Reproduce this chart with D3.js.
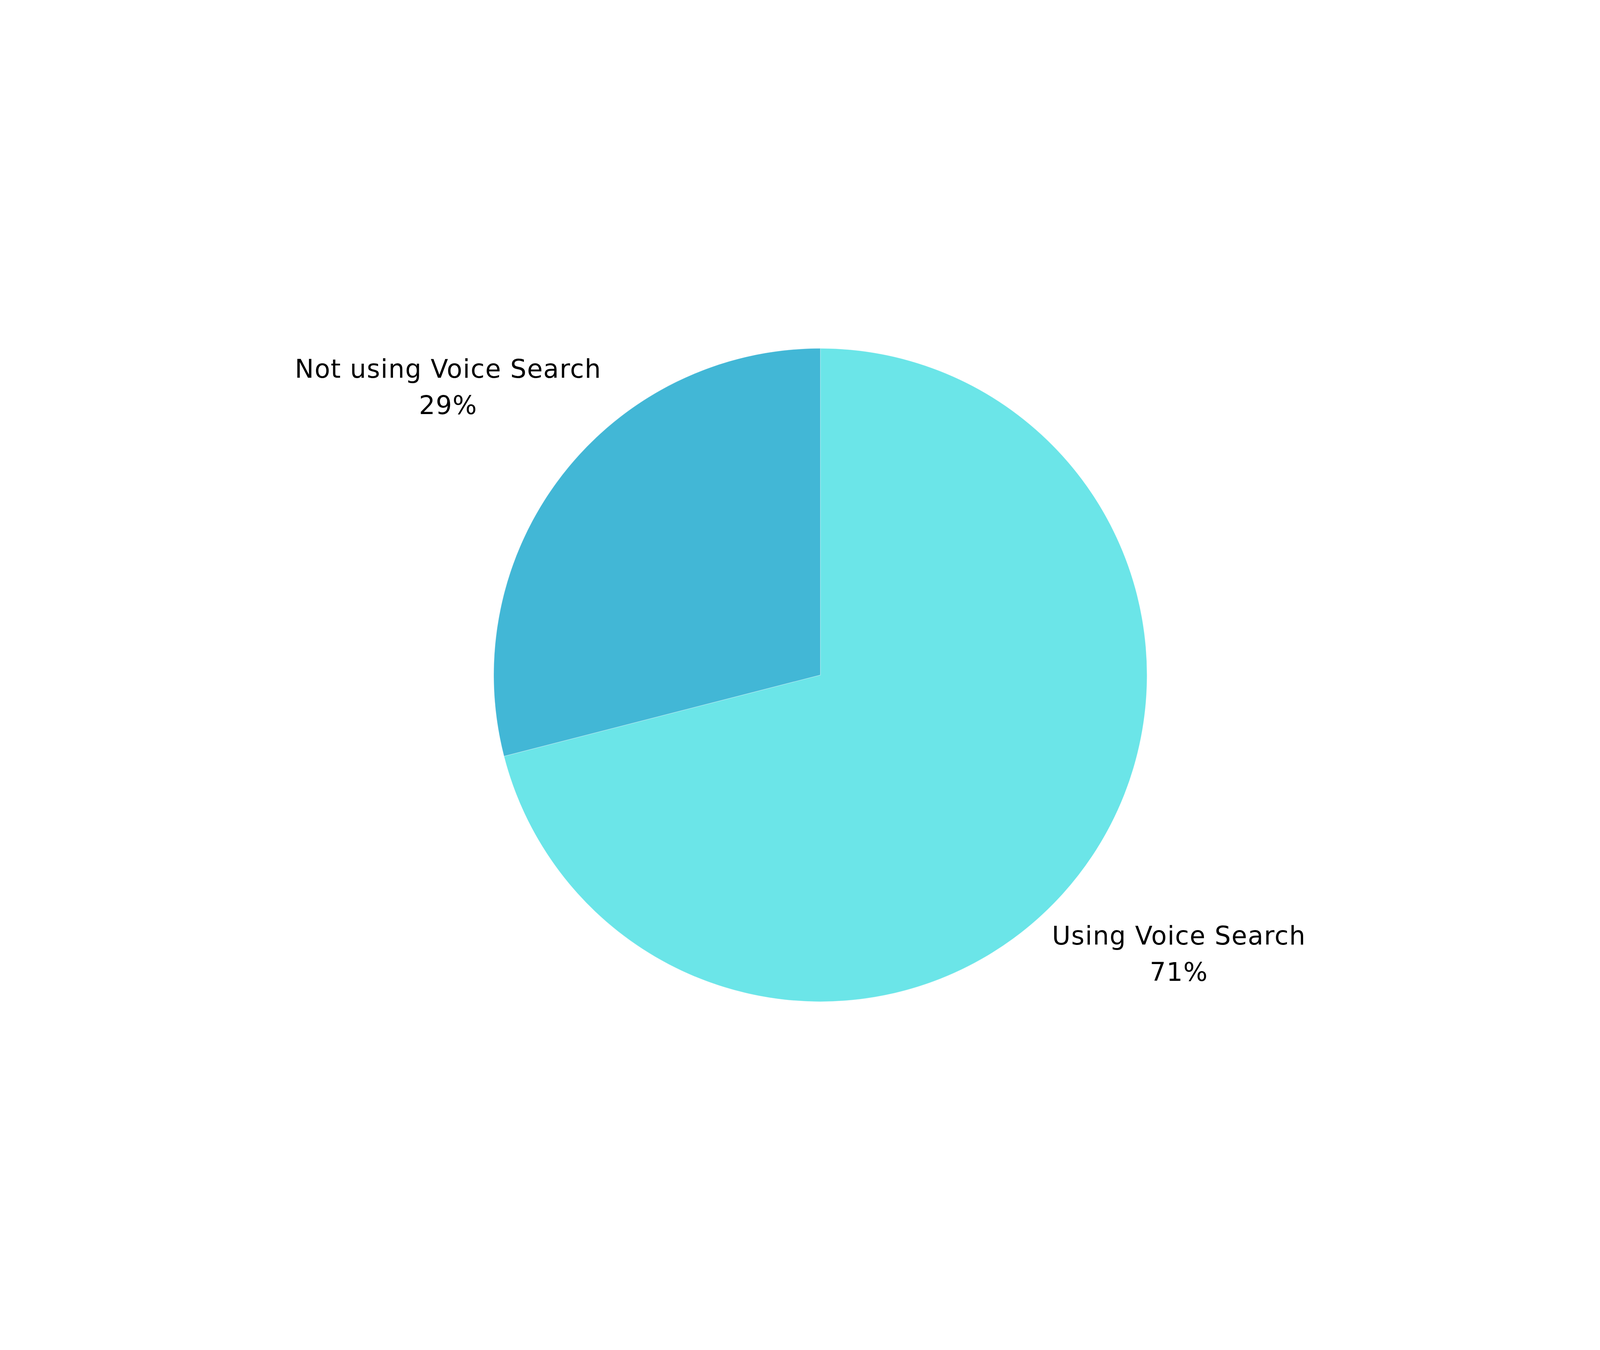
<!DOCTYPE html>
<html>
<head>
<meta charset="utf-8">
<script src="https://cdn.jsdelivr.net/npm/d3@7"></script>
<style>
html,body{margin:0;padding:0;background:#fff;width:100%;height:100%;overflow:hidden;}
svg{display:block;width:100vw;height:100vh;}
</style>
</head>
<body>
<script>
const categories = ["Using Voice Search", "Not using Voice Search"];
const values = [71, 29];
const colors = ["#6BE5E8", "#42B7D6"];
const valueLabels = ["71%", "29%"];

const W = 6912, H = 3456;
const cx = 3544, cy = 1728, R = 1411;

const svg = d3.select("body").append("svg")
  .attr("viewBox", `0 0 ${W} ${H}`)
  .attr("preserveAspectRatio", "xMidYMid meet");

const data = categories.map((c, i) => ({cat: c, value: values[i], color: colors[i], label: valueLabels[i]}));

const pie = d3.pie().value(d => d.value).sort(null);
const arc = d3.arc().innerRadius(0).outerRadius(R);
const arcs = pie(data);

const g = svg.append("g").attr("transform", `translate(${cx},${cy})`);
g.selectAll("path").data(arcs).enter().append("path")
  .attr("d", arc)
  .attr("fill", d => d.data.color)
  .attr("stroke", "#ffffff")
  .attr("stroke-opacity", 0.4)
  .attr("stroke-width", 2);

const labelPos = [
  {x: 5093, y: 2893},
  {x: 1936, y: 444}
];
const lineGap = 156;

const lg = svg.append("g")
  .attr("font-family", "'DejaVu Sans', sans-serif")
  .attr("font-size", 110)
  .attr("letter-spacing", 2.7)
  .attr("fill", "#000")
  .attr("text-anchor", "middle");

arcs.forEach((a, i) => {
  const t = lg.append("text").attr("x", labelPos[i].x).attr("y", labelPos[i].y);
  t.append("tspan").attr("x", labelPos[i].x).attr("dy", 0).text(a.data.cat);
  t.append("tspan").attr("x", labelPos[i].x).attr("dy", lineGap).text(a.data.label);
});
</script>
</body>
</html>
